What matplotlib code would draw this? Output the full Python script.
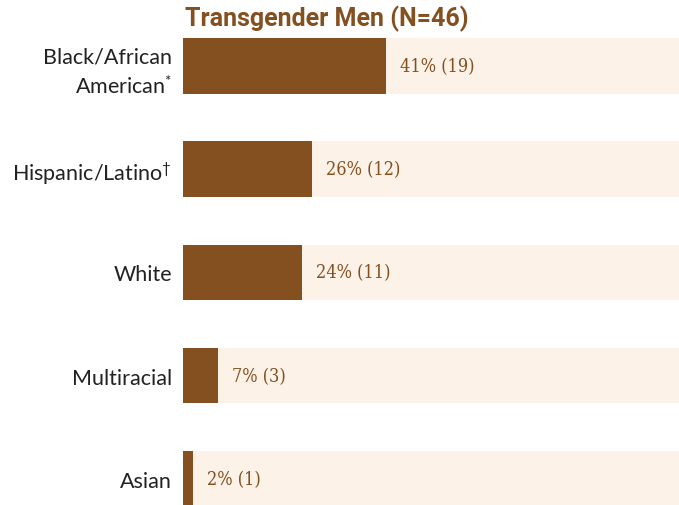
import matplotlib
matplotlib.use("Agg")
import matplotlib.pyplot as plt

plt.rcParams["mathtext.fontset"] = "custom"
plt.rcParams["mathtext.rm"] = "Lato"
plt.rcParams["mathtext.it"] = "Lato"
plt.rcParams["mathtext.bf"] = "Lato:bold"

categories = ["Black/African\nAmerican$^{\\mathrm{*}}$", "Hispanic/Latino$^{\\mathrm{\u2020}}$",
              "White", "Multiracial", "Asian"]
percents = [41, 26, 24, 7, 2]
counts = [19, 12, 11, 3, 1]
title = "Transgender Men (N=46)"

bar_color = "#84501F"
track_color = "#FCF2E7"
label_color = "#84501F"

fig = plt.figure(figsize=(6.79, 5.06), dpi=100)
ax = fig.add_axes([183 / 679, 0, 1 - 183 / 679, 1])
ypos = list(range(len(categories)))
ax.barh(ypos, [100] * len(categories), height=0.54, color=track_color, zorder=1)
ax.barh(ypos, percents, height=0.54, color=bar_color, zorder=2)
for y, p, c in zip(ypos, percents, counts):
    ax.annotate(f"{p}% ({c})", (p, y), xytext=(10, 0), textcoords="offset points",
                va="center", ha="left", fontsize=13, color=label_color,
                family="DejaVu Serif", fontweight="normal", fontstretch="condensed", zorder=3)
ax.set_xlim(0, 100)
ax.set_ylim(4.254, -0.649)
ax.set_yticks(ypos)
ax.set_yticklabels(categories, fontsize=15.5, family="Lato", color="#222222", ha="right")
for lbl in ax.get_yticklabels():
    lbl.set_linespacing(1.4)
ax.tick_params(axis="y", length=0, pad=8)
ax.set_xticks([])
for s in ax.spines.values():
    s.set_visible(False)
fig.text(185 / 679, 1 - 19 / 506, title, fontsize=18, fontweight="bold", family="Roboto",
         color=bar_color, va="center", ha="left")
fig.savefig("out.png", dpi=100)
